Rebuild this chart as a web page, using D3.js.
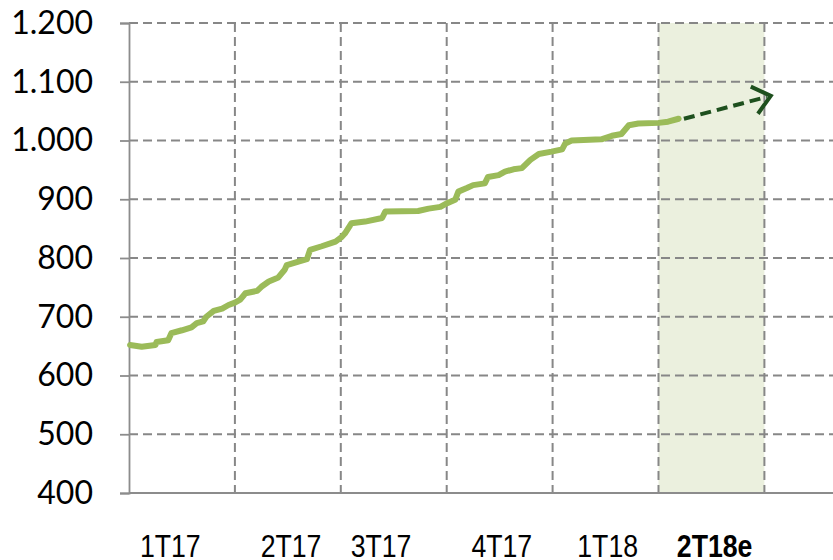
<!DOCTYPE html>
<html>
<head>
<meta charset="utf-8">
<script src="https://cdn.jsdelivr.net/npm/d3@7"></script>
<style>
html,body{margin:0;padding:0;background:#fff;}
svg{display:block;}
</style>
</head>
<body>
<svg id="chart" width="833" height="560"></svg>
<script>
// ---- data ----
const yTicks = [400, 500, 600, 700, 800, 900, 1000, 1100, 1200];
const quarterLabels = ["1T17", "2T17", "3T17", "4T17", "1T18", "2T18e"];
const labelPos = [0.39, 1.53, 2.38, 3.52, 4.52, 5.53];
const gridX = [1, 2, 3, 4, 5, 6];
const forecastBand = [5, 6];
// series: position (in quarter units) and value
const seriesX = [0.01,0.12,0.25,0.26,0.37,0.40,0.50,0.59,0.64,0.70,0.73,0.80,0.88,0.94,1.00,1.05,1.10,1.21,1.25,1.32,1.41,1.47,1.49,1.60,1.68,1.71,1.82,1.95,2.01,2.04,2.10,2.23,2.39,2.42,2.73,2.83,2.94,3.00,3.08,3.11,3.19,3.25,3.36,3.39,3.49,3.55,3.63,3.71,3.79,3.87,3.99,4.09,4.12,4.18,4.46,4.56,4.65,4.72,4.81,5.00,5.09,5.19];
const seriesY = [652,649,652,657,660,672,677,682,689,692,700,710,714,720,724,729,740,744,751,760,767,780,788,794,798,814,820,828,836,842,859,862,868,879,880,884,887,893,899,913,919,924,927,938,941,947,951,953,967,977,981,985,995,1000,1002,1008,1011,1026,1029,1030,1032,1037];
const trendX = [5.24, 6.06];
const trendY = [1037, 1076];

// ---- layout ----
const svg = d3.select("#chart");
const x = d3.scaleLinear().domain([0, 7]).range([129, 870.3]);
const y = d3.scaleLinear().domain([400, 1200]).range([493, 23]);
const W = 833;
const gridColor = "#878787";

// forecast band
svg.append("rect")
  .attr("x", x(forecastBand[0])).attr("y", y(1200))
  .attr("width", x(forecastBand[1]) - x(forecastBand[0]))
  .attr("height", y(400) - y(1200))
  .attr("fill", "#ebf0de");

// horizontal grid
svg.append("g").selectAll("line").data(yTicks.filter(d => d > 400)).join("line")
  .attr("x1", x(0)).attr("x2", W)
  .attr("y1", d => y(d)).attr("y2", d => y(d))
  .attr("stroke", gridColor).attr("stroke-width", 2)
  .attr("stroke-dasharray", "9,5");

// vertical grid
svg.append("g").selectAll("line").data(gridX).join("line")
  .attr("x1", d => x(d)).attr("x2", d => x(d))
  .attr("y1", y(1200)).attr("y2", y(400))
  .attr("stroke", gridColor).attr("stroke-width", 2)
  .attr("stroke-dasharray", "9,5");

// x axis baseline
svg.append("line")
  .attr("x1", x(0)).attr("x2", W)
  .attr("y1", y(400)).attr("y2", y(400))
  .attr("stroke", "#8c8c8c").attr("stroke-width", 1.8);

// y axis
const loc = d3.formatLocale({decimal: ",", thousands: ".", grouping: [3], currency: ["", ""]});
const fmt = loc.format(",");
const yAxis = svg.append("g")
  .attr("transform", `translate(${x(0)},0)`)
  .call(d3.axisLeft(y).tickValues(yTicks).tickSize(9).tickPadding(27).tickFormat(fmt));
yAxis.select(".domain").attr("stroke", "#8c8c8c").attr("stroke-width", 1.8);
yAxis.selectAll(".tick line").attr("stroke", "#8c8c8c").attr("stroke-width", 1.8);
yAxis.selectAll("text")
  .attr("font-family", "Lato, Carlito, 'Open Sans', sans-serif")
  .attr("font-size", 32).attr("fill", "#000");

// x labels (condensed via horizontal scale)
svg.append("g").selectAll("text").data(quarterLabels).join("text")
  .attr("transform", (d, i) => `translate(${x(labelPos[i])},557) scale(0.86,1.04)`)
  .attr("text-anchor", "middle")
  .attr("font-family", "'Liberation Sans', Arial, sans-serif")
  .attr("font-size", 31)
  .attr("font-weight", (d, i) => i === quarterLabels.length - 1 ? "bold" : "normal")
  .attr("fill", "#000")
  .text(d => d);

// series line
const pts = seriesX.map((d, i) => [d, seriesY[i]]);
svg.append("path")
  .datum(pts)
  .attr("d", d3.line().x(d => x(d[0])).y(d => y(d[1])))
  .attr("fill", "none")
  .attr("stroke", "#9bbb59")
  .attr("stroke-width", 6)
  .attr("stroke-linecap", "round")
  .attr("stroke-linejoin", "round");

// trend arrow
const ax0 = x(trendX[0]), ay0 = y(trendY[0]);
const ax1 = x(trendX[1]), ay1 = y(trendY[1]);
const ang = Math.atan2(ay1 - ay0, ax1 - ax0);
svg.append("line")
  .attr("x1", ax0).attr("y1", ay0)
  .attr("x2", ax1 - 4 * Math.cos(ang)).attr("y2", ay1 - 4 * Math.sin(ang))
  .attr("stroke", "#1e501e").attr("stroke-width", 4)
  .attr("stroke-dasharray", "11,6");
const head = 22, spread = Math.PI * 0.22;
svg.append("path")
  .attr("d", d3.line()([
    [ax1 - head * Math.cos(ang - spread), ay1 - head * Math.sin(ang - spread)],
    [ax1, ay1],
    [ax1 - head * Math.cos(ang + spread), ay1 - head * Math.sin(ang + spread)]
  ]))
  .attr("fill", "none")
  .attr("stroke", "#1e501e").attr("stroke-width", 4)
  .attr("stroke-linejoin", "miter");
</script>
</body>
</html>
